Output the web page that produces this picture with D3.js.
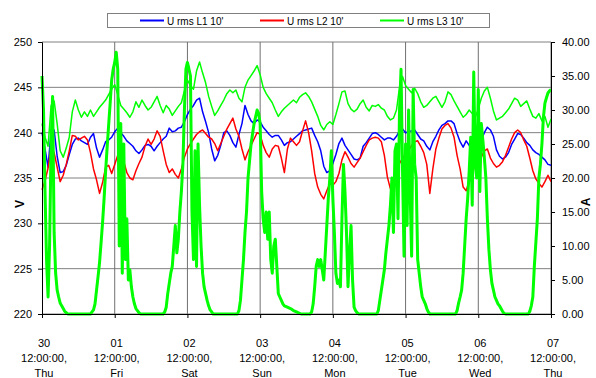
<!DOCTYPE html>
<html>
<head>
<meta charset="utf-8">
<script src="https://cdn.jsdelivr.net/npm/d3@7"></script>
<style>
  body { margin: 0; background: #fff; }
  svg { display: block; font-family: "Liberation Sans", Arial, sans-serif; }
</style>
</head>
<body>
<svg id="chart" width="596" height="378"></svg>
<script>
// x axis: hours after "30 12:00:00, Thu"
const dayNums = ["30", "01", "02", "03", "04", "05", "06", "07"];
const dayNames = ["Thu", "Fri", "Sat", "Sun", "Mon", "Tue", "Wed", "Thu"];
const dayTime = "12:00:00,";
const voltTicks = [220, 225, 230, 235, 240, 245, 250];
const ampTicks = [0, 5, 10, 15, 20, 25, 30, 35, 40];
const seriesNames = ["U rms L1 10'", "U rms L2 10'", "U rms L3 10'"];

// hourly voltage readings, index = hour
const uL1 = [240,238.2,236.2,240.2,240.3,237.4,235.6,235.7,236.4,237.6,238.7,239.3,239.4,239.1,238.9,238.7,239.5,239.9,238.3,237.3,
  238.1,239,239.2,239.5,240.1,240.5,240,239.6,239.1,238.8,238.5,238,237.7,238.1,238.6,238.7,238.5,238,238.5,238.9,
  239.3,239.6,240.5,240.1,240.2,240.5,240.6,241.2,242,242.6,243,243.6,243.8,242.3,241.2,240,238.2,236.9,237.5,238.6,
  240,240.2,239.7,238.9,238.4,239.8,241,243,242,241.3,241,241.4,241.2,240.6,240.2,239.8,239.5,239.7,239.7,239.2,
  238.6,238.9,239,239.3,239.6,239.9,240.2,240.3,240.4,240.5,239.7,239,238,236.3,235.6,235.8,236.6,237.6,238.8,239.4,
  238.6,238.1,237.6,237.1,237,237.2,238.5,238.9,239.4,239.9,240,239.8,239.5,239.2,239.4,239.4,239.2,239.6,240.2,240.4,
  240,240.1,240.2,240.3,239.8,239.3,239.1,238.5,238.1,239,239.6,240.3,240.8,241,241.3,241.3,241,239.9,239,238.4,
  239.1,238.6,238,238.3,238.6,239.2,240,240.6,240.3,239.6,238.1,237.4,237.1,237.3,237.8,238.7,239.3,239.9,239.8,239.4,
  238.9,238.6,238.1,237.8,237.6,237.3,237,236.5,236.4];
const uL2 = [233.7,234.7,236.1,238.3,237.8,236.2,234.6,235.3,236.5,238,239.7,239.6,239.2,239.4,239.6,239.2,237.8,236,234.8,233.3,
  234.5,236.2,236.4,235.5,236.5,237.5,237.8,236.8,235.6,235,234.8,235.8,236.6,237.3,238.5,239.3,238.7,239.3,240.2,239.6,
  238,236.5,235.6,236,235.4,235,236,237.3,238.2,238.8,239.3,239.8,240.1,240.3,239.9,239.5,239.3,238.8,238,238.8,
  239.6,240.4,241,241.6,240.4,239.6,238.2,237,237.9,238.6,239.3,240,239.8,238.6,237.8,237.3,238.2,238.6,238.5,237.2,
  235.6,238.2,239.4,239,238.6,239,240.2,241.3,240,238,235.5,234,233.2,232.7,233.6,234.4,234.2,234.6,235.5,237,
  237.9,237.3,236.6,236.2,236.7,237.2,237.9,238.6,239.2,239.4,239.5,239.4,239,237.5,235.1,233.8,233.8,235.5,236.6,237.2,
  237.6,238,238.6,239,239.1,238.5,237.8,236.5,233.3,236,238.2,239.4,240.4,240.8,241,240.5,239.5,237.5,236,234,
  233.6,234.7,235.8,236.3,236.8,237.3,238,238.2,237.2,236.6,236.2,236.4,236.8,237.5,238.4,239.3,240,240.3,240,239.2,
  238.5,237.2,235.8,234.9,234.4,234,234.6,235.3,234.6];
const uL3 = [241,239.5,238.5,243,243.5,241,238,237.3,238.3,239.5,242.3,243.6,242.5,241.7,242.3,241.8,242.5,241.8,242.3,242.8,
  243.2,243.6,244.2,244.8,245.3,244.2,243,242.6,242.2,241.7,242.3,243.4,242.8,243.6,243,242.5,242.8,243.4,244,243,
  242.2,243,242.6,241.9,242.4,242.9,243.3,244.6,245.8,245.2,244.8,246.8,247.8,246.6,245.5,244,242.9,241.9,242.4,243,
  243.6,244.3,244.7,244.4,244.7,243.8,243.4,245,245.8,246.3,246.8,247.4,246.4,245,244.3,243.8,243.3,242.5,241.8,242.3,
  242.7,243,243.3,243.6,243.3,243.9,244.2,244.4,244,243.4,242.6,241.8,240.8,240.3,240.9,241.2,240.9,242,243.2,244.5,
  244.6,243.2,242.6,242.3,242.6,243.2,243.6,242.8,242.4,243,242.9,243.1,242.7,242.5,241.8,241.4,241.6,242.5,245,246.2,
  245.2,244.8,244.4,244.9,244.3,243.4,242.8,243,243.4,243.8,244,243.4,242.8,243.4,244.5,244.2,243.5,242.9,242.3,241.7,
  242,242.5,242.1,241.7,242.6,243.8,244.6,245,243.8,242.4,241.4,241.6,241.8,242.2,242.6,243.2,243.8,243.6,242.9,243.2,
  243.5,242.6,241.8,241.6,242.1,241.3,241.8,240.6,241.5];

// phase current [hour, A]
const iL3 = [
  [0,35],[0.5,30],[1,18],[1.5,8],[2,2.5],[2.5,10],[3,25],[3.5,32],[4,12],[4.5,6],[5,3.5],[5.5,2.5],[6,1.6],[6.5,1.2],[7,0.8],[7.5,0.4],[8,0.2],[8.5,0],
  [16,0],[16.5,0.3],[17,0.6],[17.5,1.5],[18,3.5],[18.5,5.5],[19,7.6],[19.5,10.5],[20,13.5],[20.5,17],[21,21],[21.5,24.5],[22,27.8],[22.5,31],[23,34.4],[23.5,36],
  [24,37],[24.5,38.5],[25,36],[25.5,10],[26,28],[26.5,6],[27,25],[27.5,8],[28,14],[28.5,5],[29,6.5],[29.5,4],[30,2.5],[30.5,1.5],[31,0.8],[31.5,0.5],[32,0.2],[32.5,0],
  [40,0],[40.5,0.3],[41,1],[41.5,3],[42,4.5],[42.5,6],[43,7],[43.5,10],[44,13],[44.5,9],[45,11],[45.5,15],[46,18],[46.5,22],[47,30],[47.5,36],
  [48,37],[48.5,36],[49,35],[49.5,15],[50,8],[50.5,24],[51,7],[51.5,25],[52,16],[52.5,10],[53,6],[53.5,4],[54,3],[54.5,2],[55,1.2],[55.5,0.6],[56,0.3],[56.5,0],
  [64.5,0],[65,0.5],[65.5,2],[66,5],[66.5,8],[67,12],[67.5,15],[68,20],[68.5,22.5],[69,25],[69.5,26.5],[70,28],[70.5,29],[71,30],[71.5,29.5],
  [72,28],[72.5,18],[73,14],[73.5,12],[74,15],[74.5,11],[75,15],[75.5,8],[76,6],[76.5,10],[77,11],[77.5,7],[78,3],[78.5,2.5],[79,2],[79.5,1.5],[80,1.2],[81,1],[82,0.8],[83,0.5],[84,0.3],[85,0.1],[85.5,0],
  [88.5,0],[89,0.3],[89.5,1.5],[90,4],[90.5,7],[91,8],[91.5,7],[92,8],[92.5,6.5],[93,5],[93.5,9],[94,13],[94.5,17],[95,20],[95.5,24],
  [96,17],[96.5,12],[97,6],[97.5,4.5],[98,5],[98.5,4],[99,14],[99.5,22],[100,18],[100.5,12],[101,4],[101.5,9],[102,13],[102.5,5],[103,1],[103.5,0.5],[104,0.2],[104.5,0],
  [110.5,0],[111,0.5],[111.5,2],[112,3.5],[112.5,5],[113,6.5],[113.5,9],[114,11],[114.5,13],[115,16],[115.5,20],[116,12],[116.5,24],[117,25],[117.5,14],[118,30],[118.5,36],[119,21],[119.5,8.5],
  [120,25],[120.5,13],[121,30],[121.5,18],[122,8.5],[122.5,33],[123,22],[123.5,20],[124,8],[124.5,6],[125,4],[125.5,2.5],[126,2],[126.5,1.5],[127,0.8],[127.5,0.3],[128,0],
  [136.5,0],[137,0.5],[137.5,1.6],[138,2.5],[138.5,3.5],[139,6],[139.5,10],[140,14],[140.5,17],[141,21],[141.5,26],[142,16],[142.5,35.6],[143,22],[143.5,20],
  [144,33],[144.5,18],[145,28],[145.5,25.6],[146,23],[146.5,20],[147,14],[147.5,9.5],[148,6.5],[148.5,4.5],[149,3.5],[149.5,2.5],[150,2],[150.5,1.5],[151,1.2],[151.5,0.8],[152,0.4],[152.5,0.1],[153,0],
  [160.5,0],[161,0.4],[161.5,1.2],[162,2.5],[162.5,7],[163,10.5],[163.5,14],[164,20],[164.5,22],[165,25],[165.5,29],[166,31],[166.5,31.8],[167,32.5],[167.5,32.8],[168,33]
];

const colors = ["#0000ff", "#ff0000", "#00ff00"];

const svg = d3.select("#chart");
const plotLeft = 42, plotRight = 551, plotTop = 42, plotBottom = 314;

const x = d3.scaleLinear().domain([0, 168]).range([plotLeft, plotRight]);
const yV = d3.scaleLinear().domain([220, 250]).range([plotBottom, plotTop]);
const yA = d3.scaleLinear().domain([0, 40]).range([plotBottom, plotTop]);
const hourTicks = dayNums.map((d, i) => i * 24);

// grid
const grid = svg.append("g");
grid.selectAll("line.h")
  .data(voltTicks)
  .enter()
  .append("line")
  .attr("x1", plotLeft).attr("x2", plotRight)
  .attr("y1", d => yV(d)).attr("y2", d => yV(d))
  .attr("stroke", "#808080")
  .attr("stroke-width", 1);
grid.selectAll("line.v")
  .data(hourTicks.slice(1))
  .enter()
  .append("line")
  .attr("x1", d => x(d)).attr("x2", d => x(d))
  .attr("y1", plotTop).attr("y2", plotBottom)
  .attr("stroke", "#707070")
  .attr("stroke-width", 1);

// lines
const vLine = d3.line().x((d, i) => x(i)).y(d => yV(d));
const plot = svg.append("g").attr("fill", "none").attr("stroke-linejoin", "round");
[uL1, uL2, uL3].forEach((s, k) => {
  plot.append("path")
    .attr("d", vLine(s))
    .attr("stroke", colors[k])
    .attr("stroke-width", 1.5);
});
const iLine = d3.line().x(d => x(d[0])).y(d => yA(d[1]));
plot.append("path")
  .attr("d", iLine(iL3))
  .attr("stroke", colors[2])
  .attr("stroke-width", 3);

// axes
const axisLeft = svg.append("g")
  .attr("transform", `translate(${plotLeft},0)`)
  .call(d3.axisLeft(yV).tickValues(voltTicks).tickSize(4).tickPadding(6));
const axisRight = svg.append("g")
  .attr("transform", `translate(${plotRight},0)`)
  .call(d3.axisRight(yA).tickValues(ampTicks).tickSize(4).tickPadding(7).tickFormat(d3.format(".2f")));
const axisBottom = svg.append("g")
  .attr("transform", `translate(0,${plotBottom})`)
  .call(d3.axisBottom(x).tickValues(hourTicks).tickSize(4).tickFormat(""));

[axisLeft, axisRight, axisBottom].forEach(a => {
  a.select(".domain").attr("stroke", "#000");
  a.selectAll(".tick line").attr("stroke", "#000");
  a.selectAll("text").attr("font-size", 11).attr("font-family", "Liberation Sans, Arial, sans-serif").attr("fill", "#000");
});

// bottom labels
const xl = svg.append("g").attr("font-size", 11).attr("text-anchor", "middle");
hourTicks.forEach((h, i) => {
  const t = xl.append("text").attr("x", x(h) + 2).attr("y", 347);
  t.append("tspan").attr("x", x(h) + 2).text(dayNums[i]);
  t.append("tspan").attr("x", x(h) + 2).attr("dy", 15).text(dayTime);
  t.append("tspan").attr("x", x(h) + 2).attr("dy", 15).text(dayNames[i]);
});

// axis titles
svg.append("text")
  .attr("transform", "translate(24,204) rotate(-90)")
  .attr("text-anchor", "middle")
  .attr("font-size", 12).attr("font-weight", "bold")
  .text("V");
svg.append("text")
  .attr("transform", "translate(590,202) rotate(-90)")
  .attr("text-anchor", "middle")
  .attr("font-size", 12).attr("font-weight", "bold")
  .text("A");

// legend
const legend = svg.append("g");
legend.append("rect")
  .attr("x", 107.5).attr("y", 13.5).attr("width", 382).attr("height", 14)
  .attr("fill", "#fff").attr("stroke", "#808080");
const legendX = [140, 260, 380];
seriesNames.forEach((name, k) => {
  legend.append("line")
    .attr("x1", legendX[k]).attr("x2", legendX[k] + 24)
    .attr("y1", 20.5).attr("y2", 20.5)
    .attr("stroke", colors[k]).attr("stroke-width", 2);
  legend.append("text")
    .attr("x", legendX[k] + 27).attr("y", 24.5)
    .attr("font-size", 10)
    .text(name);
});
</script>
</body>
</html>
